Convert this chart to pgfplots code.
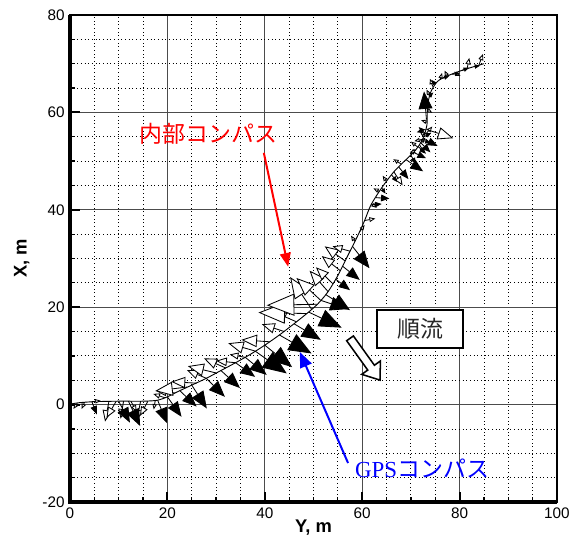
\documentclass[border=0pt]{standalone}
\usepackage{pgfplots}
\pgfplotsset{compat=1.18}
\usetikzlibrary{arrows.meta}
\usepackage{fontspec}
\setmainfont{Liberation Sans}
\newfontfamily\jp{Noto Sans CJK JP}
\newfontfamily\tms{Liberation Serif}

\begin{document}
\begin{tikzpicture}
\begin{axis}[
 scale only axis, width=318.5pt, height=318.5pt,
 xmin=0,xmax=100,ymin=-20,ymax=80,
 xtick={0,20,...,100}, ytick={-20,0,...,80},
 minor tick num=3,
 grid=both,
 major grid style={black!70, line width=0.6pt},
 minor grid style={black, dotted, line width=0.55pt},
 tick align=inside, tick pos=left,
 major tick length=6.5pt, minor tick length=3.5pt,
 major tick style={line width=1.2pt, black},
 minor tick style={line width=0.8pt, black},
 axis line style={line width=0.8pt},
 /pgf/number format/assume math mode=true,
 ticklabel style={font=\fontsize{10}{12}\selectfont},
 xlabel={Y, m}, ylabel={X, m},
 label style={font=\fontsize{12}{14}\selectfont\bfseries},
 xlabel style={at={(rel axis cs:0.5,-0.053)}, anchor=center},
 ylabel style={at={(rel axis cs:-0.099,0.5)}, anchor=center},
 clip=false,
]
% trajectory
\addplot[black, line width=0.6pt, smooth, tension=0.5] coordinates {
(0,0.1) (2,0.4) (5,0.6) (10,0.7) (15,0.7) (18,0.9) (20,1.6) (22,2.6) (25,4.0) (28,5.4)
(31,7.0) (34,8.6) (37,10.3) (40,12.2) (43,14.3) (46,16.6) (49,19.0) (51,20.8) (53,23.2)
(55,26.5) (57,30.5) (59,34.5) (60.5,37.8) (61.8,41) (64,44.5) (66.5,47.8) (69,50.3)
(71,52.3) (72.5,54.7) (73.3,57.5) (73.4,61) (74,64) (75.5,66.4) (78,67.7) (81,68.8) (85,70)
};
% internal compass (white arrows)
\addplot[black, line width=0.55pt,
 point meta={sqrt((\thisrow{u})^2+(\thisrow{v})^2)}, point meta min=0, point meta max=12,
 quiver={u=\thisrow{u}, v=\thisrow{v},
  every arrow/.append style={/utils/exec={\pgfmathsetmacro\hl{max(3.5,0.021*\pgfplotspointmetatransformed)}\pgfmathsetmacro\hw{0.8*\hl}},
   -{Triangle[fill=white,length=\hl pt,width=\hw pt]}}}]
 table[row sep=\\] {
x y u v\\
1.5 0.3 -0.8 -1.2\\
3 0.5 -0.6 -1.4\\
4.5 0.6 1.8 0.2\\
8 0.7 -0.8 -4.2\\
9.5 0.7 -2.0 -3.4\\
11 0.7 -0.6 -3.6\\
12.5 0.7 1.2 -2.2\\
14.5 0.7 -0.8 -4.0\\
16 0.7 -1.6 -3.0\\
17.5 0.8 -0.3 -1.8\\
19.5 1.4 -2.4 0.8\\
21.5 2.4 -3.8 0.4\\
24 3.6 -6.5 -0.8\\
26 4.4 -5.2 0.3\\
28 5.4 -4.0 1.7\\
30 6.5 -5.8 1.4\\
32 7.5 -4.5 2.0\\
34 8.6 -4.0 0.4\\
36 9.7 -3.2 0.6\\
38 11.0 -5.5 1.6\\
41 12.9 -5.8 0.4\\
44 15.0 -4.6 1.5\\
46.5 17.0 -5.0 2.2\\
48.6 18.7 -9.9 0.2\\
50.7 20.6 -10.3 -0.2\\
49.6 19.6 -4.4 6.6\\
51.5 21.4 -5.0 4.6\\
53 23.2 -3.8 4.3\\
54 24.8 -3.5 3.4\\
55.5 27.5 -3.8 3.0\\
56.5 29.5 -4.2 3.0\\
57.5 31.5 -3.6 1.0\\
58.5 33.5 -0.8 1.2\\
59.5 35.5 1.0 1.4\\
60.5 37.8 2.2 0.4\\
62 41.2 1.0 -0.8\\
63.5 43.8 -1.2 0.6\\
65 45.8 -0.8 1.2\\
66.5 47.8 1.8 -2.8\\
68 49.4 -1.6 1.0\\
70 51.3 0.8 1.2\\
71 52.3 -1.2 -0.8\\
71.5 52.8 -1.5 1.2\\
71.8 53.3 1.0 -1.6\\
72 53.8 1.0 1.0\\
72.5 54.5 -1.8 -0.4\\
72.8 55.3 -1.0 0.8\\
73 55.5 1.4 1.6\\
73.2 56.5 5.5 -1.8\\
73.3 58 -1.2 0.4\\
73.4 60.5 1.0 -0.6\\
73.8 63.5 -0.6 1.2\\
74.5 65.3 -0.6 1.6\\
76 66.7 0.4 1.4\\
77.5 67.4 -0.6 1.2\\
79 68 1.2 -0.5\\
81.5 68.8 0.5 2.4\\
84 69.8 0.8 2.2\\
};
% GPS compass (black arrows)
\addplot[black, line width=0.55pt,
 point meta={sqrt((\thisrow{u})^2+(\thisrow{v})^2)}, point meta min=0, point meta max=12,
 quiver={u=\thisrow{u}, v=\thisrow{v},
  every arrow/.append style={/utils/exec={\pgfmathsetmacro\hl{max(3.5,0.0235*\pgfplotspointmetatransformed)}\pgfmathsetmacro\hw{0.8*\hl}},
   -{Triangle[length=\hl pt,width=\hw pt]}}}]
 table[row sep=\\] {
x y u v\\
4.5 0.6 1.0 -2.6\\
10 0.7 2.3 -4.4\\
12 0.7 2.4 -5.1\\
18 0.9 1.9 -4.7\\
20 1.6 2.9 -4.1\\
22.5 2.9 3.5 -3.3\\
25 4.0 3.1 -4.8\\
28 5.4 3.8 -3.8\\
31 7.0 3.9 -3.6\\
34 8.6 4.0 -2.9\\
36 9.7 4.4 -3.6\\
38 11.0 6.5 -4.6\\
40 12.2 5.6 -4.5\\
43 14.3 6.6 -3.8\\
46 16.6 5.5 -3.3\\
49 19.0 6.8 -3.2\\
51.5 21.4 5.5 -1.8\\
52.5 22.6 5.0 -3.2\\
54.5 25.8 3.0 -2.3\\
56 28.4 3.5 -2.8\\
58 32.5 3.5 -4.5\\
61.8 41 2.2 0.2\\
62.8 42.5 2.8 -0.2\\
64 44.5 0.8 -1.2\\
66 47.2 1.2 -1.5\\
67.5 48.8 2.0 -2.5\\
69 50.3 3.5 -2.4\\
70 51.2 1.0 -1.8\\
70.5 51.8 2.6 -1.2\\
71.5 53 1.6 -1.5\\
72 53.8 2.0 -2.0\\
72.3 54.3 1.8 -0.6\\
72.5 54.6 3.0 -1.5\\
72.7 55 1.5 0.8\\
73 55.6 -1.4 1.4\\
73 56.5 -1.8 -0.6\\
73.2 58.5 -0.5 5.8\\
73.8 63.3 0.8 0.8\\
75 65.7 -0.8 1.0\\
76.5 67 1.4 0.5\\
78.5 67.8 1.6 0.3\\
80.5 68.6 1.4 0.6\\
83 69.4 1.2 0.2\\
};
% annotations
\node[text=red, font=\jp\fontsize{15}{18}\selectfont] at (axis cs:28.4,55.6) {内部コンパス};
\draw[red, line width=1.3pt, -{Triangle[length=9pt,width=7pt]}] (axis cs:39.8,51.7) -- (axis cs:44.8,28.3);
\node[text=blue, font=\fontsize{15}{18}\selectfont] at (axis cs:72.3,-13.2) {{\tms GPS}{\jp コンパス}};
\draw[blue, line width=1.3pt, -{Triangle[length=10pt,width=8pt]}] (axis cs:57.1,-12.0) -- (axis cs:47.2,10.8);
\node[draw=black, line width=1.3pt, fill=white, minimum width=56pt, minimum height=25pt, inner sep=0pt, text=black!85, font=\jp\fontsize{15}{18}\selectfont] at (axis cs:71.9,15.5) {順流};
\draw[line width=1pt, fill=white] (axis cs:56.81,13.11) -- (axis cs:61.14,7.09) -- (axis cs:59.91,6.21) -- (axis cs:63.66,5.03) -- (axis cs:63.74,8.96) -- (axis cs:62.51,8.08) -- (axis cs:58.19,14.10) -- cycle;
\draw[line width=2pt] (rel axis cs:0,1) -- (rel axis cs:0,0) -- (rel axis cs:1,0);
\path (rel axis cs:-0.1437,-0.0862) rectangle (rel axis cs:1.0493,1.0308);
\end{axis}
\end{tikzpicture}
\end{document}
